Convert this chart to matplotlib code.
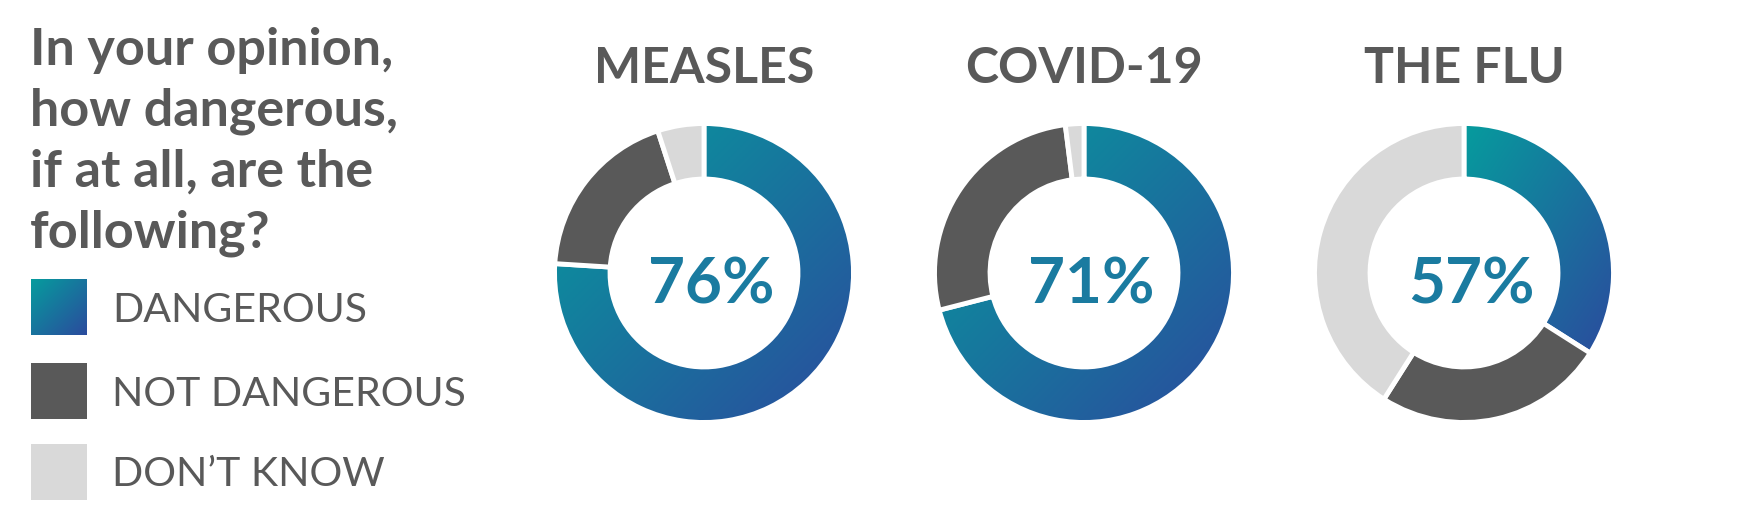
import numpy as np
import matplotlib
matplotlib.use('Agg')
import matplotlib.pyplot as plt
from matplotlib.colors import LinearSegmentedColormap
from matplotlib.patches import Rectangle

# data
diseases = ['MEASLES', 'COVID-19', 'THE FLU']
dangerous = [76, 71, 34]
not_dangerous = [19, 27, 25]
dont_know = [5, 2, 41]
center_labels = ['76%', '71%', '57%']
legend_labels = ['DANGEROUS', 'NOT DANGEROUS', 'DON\u2019T KNOW']
question = ['In your opinion,', 'how dangerous,', 'if at all, are the', 'following?']

W, H = 1739, 522
text_grey = '#595959'
dark_grey = '#595959'
light_grey = '#d9d9d9'
grad = LinearSegmentedColormap.from_list('grad', ['#069c9e', '#2b4b9d'])
FONT = 'Lato'


def gradient(n=200):
    x = np.linspace(0, 1, n)
    xx, yy = np.meshgrid(x, x)
    return (xx + yy) / 2


fig = plt.figure(figsize=(W / 100, H / 100), dpi=100)
base = fig.add_axes([0, 0, 1, 1])
base.axis('off')

# question text
for i, line in enumerate(question):
    base.text(30, 65 + i * 60.7, line, fontsize=37.5, fontweight='bold',
              color=text_grey, family=FONT, va='baseline')

# legend
sq_tops = [279, 363, 444]
baselines = [322, 406, 486]
base.imshow(gradient(), cmap=grad, extent=(31, 87, sq_tops[0] + 56, sq_tops[0]),
            origin='upper', aspect='auto', zorder=1)
base.add_patch(Rectangle((31, sq_tops[1]), 56, 56, color=dark_grey, lw=0))
base.add_patch(Rectangle((31, sq_tops[2]), 56, 56, color=light_grey, lw=0))
for lab, b in zip(legend_labels, baselines):
    base.text(112, b, lab, fontsize=29.5, fontweight='normal', color=text_grey,
              family=FONT, va='baseline')

base.set_xlim(0, W)
base.set_ylim(H, 0)

# donuts
R = 148.0
S = 340
centers = [704, 1084, 1464]
cy = 273
for i, cx in enumerate(centers):
    base.text(cx, 83, diseases[i], ha='center', va='baseline', fontsize=36,
              fontweight='bold', color=text_grey, family=FONT)

    ax = fig.add_axes([(cx - S / 2) / W, (H - cy - S / 2) / H, S / W, S / H])
    vals = [dangerous[i], not_dangerous[i], dont_know[i]]
    wedges, _ = ax.pie(vals, colors=['none', dark_grey, light_grey], startangle=90,
                       counterclock=False, radius=1.01,
                       wedgeprops=dict(width=0.375, edgecolor='white', linewidth=3.5))
    w0 = wedges[0]
    bb = w0.get_path().get_extents()
    im = ax.imshow(gradient(), cmap=grad, extent=(bb.x0, bb.x1, bb.y0, bb.y1),
                   origin='upper', aspect='auto', zorder=0)
    im.set_clip_path(w0)

    ax.text(0.047, -0.203, center_labels[i], ha='center', va='baseline',
            fontsize=46, fontweight='bold', color='#1a7ba0', family=FONT)
    lim = S / 2 / R
    ax.set_xlim(-lim, lim)
    ax.set_ylim(-lim, lim)
    ax.axis('off')

fig.savefig('out.png', dpi=100)
